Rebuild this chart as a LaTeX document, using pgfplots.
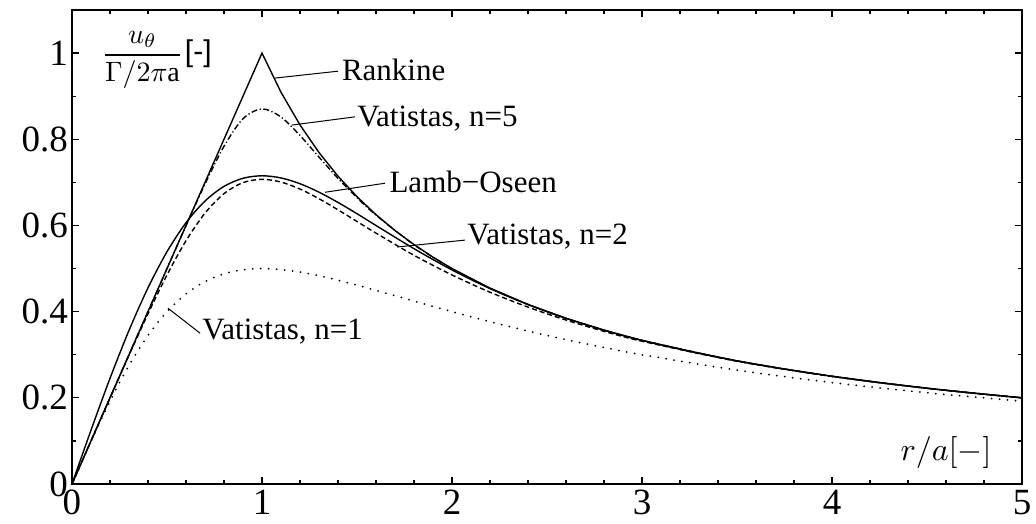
\documentclass[border=0pt]{standalone}
\usepackage{pgfplots}
\pgfplotsset{compat=1.18}
\usepackage{fontspec}
\setmainfont{Liberation Serif}
\newfontfamily\sansf{Liberation Sans}
\begin{document}
\begin{tikzpicture}
\begin{axis}[
  scale only axis, width=950pt, height=474pt,
  xmin=0, xmax=5, ymin=0, ymax=1.1,
  xtick={0,1,2,3,4,5}, ytick={0,0.2,0.4,0.6,0.8,1},
  minor x tick num=4, minor y tick num=1,
  tick align=inside, major tick length=7pt, minor tick length=4pt,
  axis line style={line width=1.4pt},
  every tick/.style={line width=1.2pt, black},
  tick label style={font=\fontsize{37}{40}\selectfont, inner sep=1pt},
  xticklabel style={yshift=-5pt},
  yticklabel style={xshift=-3pt},
  /pgf/number format/assume math mode=true,
  clip=false,
]
% Rankine
\addplot[black, no marks, line width=1.4pt] coordinates {(0,0) (1,1) (1.1,0.9091) (1.2,0.8333) (1.3,0.7692) (1.4,0.7143) (1.5,0.6667) (1.6,0.625) (1.7,0.5882) (1.8,0.5556) (1.9,0.5263) (2,0.5) (2.2,0.4545) (2.4,0.4167) (2.6,0.3846) (2.8,0.3571) (3,0.3333) (3.25,0.3077) (3.5,0.2857) (3.75,0.2667) (4,0.25) (4.25,0.2353) (4.5,0.2222) (4.75,0.2105) (5,0.2)};
% Lamb-Oseen
\addplot[black, smooth, no marks, line width=1.4pt] coordinates {(0,0) (0.1,0.1249) (0.2,0.2451) (0.3,0.3564) (0.4,0.4553) (0.5,0.5391) (0.6,0.6064) (0.7,0.6567) (0.8,0.6907) (0.9,0.7095) (1,0.7153) (1.1,0.7103) (1.2,0.6969) (1.3,0.6772) (1.4,0.6534) (1.5,0.6272) (1.6,0.5999) (1.8,0.5461) (2,0.4967) (2.2,0.4535) (2.4,0.4164) (2.6,0.3845) (2.8,0.3571) (3,0.3333) (3.5,0.2857) (4,0.25) (4.5,0.2222) (5,0.2)};
% Vatistas n=5
\addplot[black, smooth, no marks, line width=1.4pt, dash pattern=on 6pt off 2.5pt on 1.2pt off 2.5pt] coordinates {(0,0) (0.1,0.1) (0.2,0.2) (0.3,0.3) (0.4,0.4) (0.5,0.4999) (0.6,0.5993) (0.7,0.6961) (0.8,0.7838) (0.9,0.8477) (1,0.8706) (1.1,0.8517) (1.2,0.8088) (1.3,0.7586) (1.4,0.7094) (1.5,0.6644) (1.6,0.6239) (1.8,0.5552) (2,0.4998) (2.2,0.4545) (2.4,0.4167) (2.6,0.3846) (2.8,0.3571) (3,0.3333) (3.5,0.2857) (4,0.25) (4.5,0.2222) (5,0.2)};
% Vatistas n=2
\addplot[black, smooth, no marks, line width=1.4pt, dash pattern=on 5pt off 3pt] coordinates {(0,0) (0.1,0.1) (0.2,0.1998) (0.3,0.2988) (0.4,0.3950) (0.5,0.4851) (0.6,0.5645) (0.7,0.6286) (0.8,0.6738) (0.9,0.6994) (1,0.7071) (1.1,0.7007) (1.2,0.6845) (1.3,0.6620) (1.4,0.6363) (1.5,0.6092) (1.6,0.5822) (1.8,0.5308) (2,0.4851) (2.2,0.4451) (2.4,0.4105) (2.6,0.3805) (2.8,0.3543) (3,0.3313) (3.5,0.2848) (4,0.2495) (4.5,0.2220) (5,0.1998)};
% Vatistas n=1
\addplot[black, smooth, no marks, line width=2pt, line cap=round, dash pattern=on 0pt off 8pt] coordinates {(0,0) (0.1,0.0990) (0.2,0.1923) (0.3,0.2752) (0.4,0.3448) (0.5,0.4) (0.6,0.4412) (0.7,0.4698) (0.8,0.4878) (0.9,0.4972) (1,0.5) (1.1,0.4977) (1.2,0.4918) (1.3,0.4833) (1.4,0.4730) (1.5,0.4615) (1.6,0.4494) (1.8,0.4245) (2,0.4) (2.2,0.3767) (2.4,0.3550) (2.6,0.3351) (2.8,0.3167) (3,0.3) (3.5,0.2642) (4,0.2353) (4.5,0.2118) (5,0.1923)};
% annotations
\draw[line width=1pt] (axis cs:1.068,0.942) -- (axis cs:1.40,0.958);
\node[anchor=west, inner sep=1pt, font=\fontsize{31}{34}\selectfont] at (axis cs:1.415,0.962) {Rankine};
\draw[line width=1pt] (axis cs:1.158,0.833) -- (axis cs:1.489,0.852);
\node[anchor=west, inner sep=1pt, font=\fontsize{31}{34}\selectfont] at (axis cs:1.495,0.849) {Vatistas, n=5};
\draw[line width=1pt] (axis cs:1.332,0.677) -- (axis cs:1.647,0.698);
\node[anchor=west, inner sep=1pt, font=\fontsize{31}{34}\selectfont] at (axis cs:1.665,0.701) {Lamb\textminus Oseen};
\draw[line width=1pt] (axis cs:1.711,0.550) -- (axis cs:2.068,0.566);
\node[anchor=west, inner sep=1pt, font=\fontsize{31}{34}\selectfont] at (axis cs:2.075,0.575) {Vatistas, n=2};
\draw[line width=1pt] (axis cs:0.505,0.408) -- (axis cs:0.674,0.350);
\node[anchor=west, inner sep=1pt, font=\fontsize{31}{34}\selectfont] at (axis cs:0.68,0.353) {Vatistas, n=1};
% axis labels
\node[anchor=west, inner sep=0pt] at (axis cs:0.155,0.985) {\scalebox{2.8}{$\displaystyle\frac{u_\theta}{\Gamma/2\pi\mathrm{a}}$}\,{\sansf\fontsize{30}{34}\selectfont [-]}};
\node[anchor=east, inner sep=0pt] at (axis cs:4.84,0.074) {\scalebox{3.2}{$r/a[-]$}};
\coordinate (SW) at (rel axis cs:0,0);
\end{axis}
\pgfresetboundingbox
\path ([shift={(-72pt,-39pt)}]SW) rectangle ([shift={(964pt,484pt)}]SW);
\end{tikzpicture}
\end{document}
